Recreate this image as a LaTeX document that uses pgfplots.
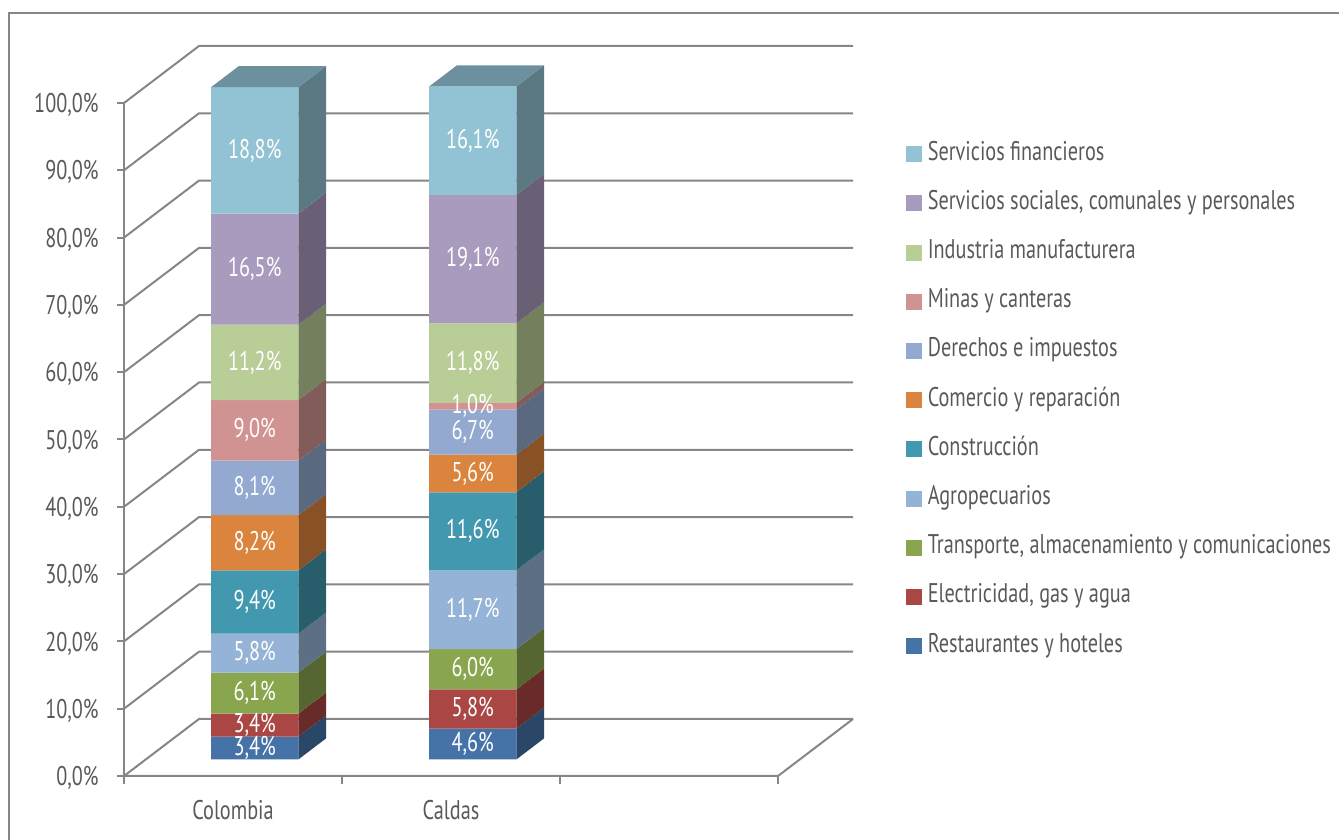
\documentclass[border=0pt]{standalone}
\usepackage{fontspec}
\setmainfont{PT Sans}[FakeStretch=0.75]
\usepackage{pgfplots}
\pgfplotsset{compat=1.18}
\usetikzlibrary{calc}

\definecolor{c1}{HTML}{4572A7}
\definecolor{c2}{HTML}{AA4643}
\definecolor{c3}{HTML}{89A54E}
\definecolor{c4}{HTML}{95B3D7}
\definecolor{c5}{HTML}{4198AF}
\definecolor{c6}{HTML}{DB843D}
\definecolor{c7}{HTML}{93A9CF}
\definecolor{c8}{HTML}{D19392}
\definecolor{c9}{HTML}{B9CD96}
\definecolor{c10}{HTML}{A99BBD}
\definecolor{c11}{HTML}{92C3D4}
\definecolor{txt}{HTML}{595959}
\definecolor{gridc}{HTML}{868686}

\newcommand\lfont{\fontsize{13.5}{15}\selectfont}
\tikzset{lbl/.style={text=white, font=\lfont, inner sep=0pt}}

% bar geometry: depth from 0.29 to 0.66, half width 0.2
\def\yf{0.29}
\def\yb{0.66}
\def\barx{0.5}
\gdef\base{0}
\newtoks\labtoks
\newcommand\seg[3]{% #1 value, #2 colour, #3 label text
  \pgfmathsetmacro\zlo{\base}%
  \pgfmathsetmacro\zhi{\base+#1}%
  \pgfmathsetmacro\zmid{\base+#1/2}%
  \pgfmathsetmacro\xl{\barx-0.2}%
  \pgfmathsetmacro\xr{\barx+0.2}%
  \xdef\base{\zhi}%
  \edef\tmp{%
    \noexpand\addplot3[forget plot, draw=none, fill=#2!62!black] coordinates {(\xr,\yf,\zlo) (\xr,\yb,\zlo) (\xr,\yb,\zhi) (\xr,\yf,\zhi) (\xr,\yf,\zlo)};
    \noexpand\addplot3[forget plot, draw=none, fill=#2] coordinates {(\xl,\yf,\zlo) (\xr,\yf,\zlo) (\xr,\yf,\zhi) (\xl,\yf,\zhi) (\xl,\yf,\zlo)};
  }\tmp
  \edef\tmpl{\the\labtoks \noexpand\node[lbl] at (axis cs:\barx,\yf,\zmid) {\unexpanded{#3}};}%
  \global\labtoks=\expandafter{\tmpl}%
}
\newcommand\topface[1]{%
  \pgfmathsetmacro\xl{\barx-0.2}%
  \pgfmathsetmacro\xr{\barx+0.2}%
  \edef\tmp{%
    \noexpand\addplot3[forget plot, draw=none, fill=#1!74!black] coordinates {(\xl,\yf,\base) (\xr,\yf,\base) (\xr,\yb,\base) (\xl,\yb,\base) (\xl,\yf,\base)};
  }\tmp
}

\pgfplotsset{lgd/.style={legend image code/.code={\fill[#1] (0pt,-3.75pt) rectangle (7.5pt,3.75pt);}}}

\begin{document}
\begin{tikzpicture}
\begin{axis}[
  x={(109pt,0pt)}, y={(37.5pt,28.5pt)}, z={(0pt,3.365pt)},
  xmin=0, xmax=3, ymin=0, ymax=1, zmin=0, zmax=100,
  hide axis, clip=false,
  reverse legend, legend cell align=left,
  legend style={draw=none, fill=none, at={(axis cs:3.587,0,94.2)}, anchor=north west,
    row sep=12.6pt, column sep=3pt, inner sep=0pt, outer sep=0pt,
    nodes={text=txt, font=\lfont, inner sep=0pt, text height=9pt, text depth=3pt}},
]
\coordinate (O) at (axis cs:0,0,0);
% walls and floor
\pgfplotsinvokeforeach{0,10,...,100}{
  \draw[gridc, line width=1pt] (axis cs:0,0,#1) -- (axis cs:0,1,#1) -- (axis cs:3,1,#1);
  \draw[gridc, line width=1pt] (axis cs:0,0,#1) -- ++(-3.5pt,0pt);
  \node[anchor=east, text=txt, font=\lfont, inner sep=0pt] at ($(axis cs:0,0,#1)+(-12.5pt,-1pt)$) {#1,0\%};
}
\draw[gridc, line width=1pt] (axis cs:0,0,0) -- (axis cs:3,0,0) -- (axis cs:3,1,0);
\draw[gridc, line width=1pt] (axis cs:0,0,0) -- (axis cs:0,0,100);
\pgfplotsinvokeforeach{0,1,2,3}{
  \draw[gridc, line width=1pt] (axis cs:#1,0,0) -- ++(0pt,-4pt);
}
\node[text=txt, font=\lfont, inner sep=0pt] at ($(axis cs:0.5,0,0)+(0pt,-17pt)$) {Colombia};
\node[text=txt, font=\lfont, inner sep=0pt] at ($(axis cs:1.5,0,0)+(0pt,-17pt)$) {Caldas};

\global\labtoks={}
% Colombia
\def\barx{0.5}\gdef\base{0}
\seg{3.4}{c1}{3,4\%}
\seg{3.4}{c2}{3,4\%}
\seg{6.1}{c3}{6,1\%}
\seg{5.8}{c4}{5,8\%}
\seg{9.4}{c5}{9,4\%}
\seg{8.2}{c6}{8,2\%}
\seg{8.1}{c7}{8,1\%}
\seg{9.0}{c8}{9,0\%}
\seg{11.2}{c9}{11,2\%}
\seg{16.5}{c10}{16,5\%}
\seg{18.8}{c11}{18,8\%}
\topface{c11}

% Caldas
\def\barx{1.5}\gdef\base{0}
\seg{4.6}{c1}{4,6\%}
\seg{5.8}{c2}{5,8\%}
\seg{6.0}{c3}{6,0\%}
\seg{11.7}{c4}{11,7\%}
\seg{11.6}{c5}{11,6\%}
\seg{5.6}{c6}{5,6\%}
\seg{6.7}{c7}{6,7\%}
\seg{1.0}{c8}{1,0\%}
\seg{11.8}{c9}{11,8\%}
\seg{19.1}{c10}{19,1\%}
\seg{16.1}{c11}{16,1\%}
\topface{c11}

% data labels on top of all bars
\the\labtoks

\addlegendimage{lgd=c1}\addlegendentry{Restaurantes y hoteles}
\addlegendimage{lgd=c2}\addlegendentry{Electricidad, gas y agua}
\addlegendimage{lgd=c3}\addlegendentry{Transporte, almacenamiento y comunicaciones}
\addlegendimage{lgd=c4}\addlegendentry{Agropecuarios}
\addlegendimage{lgd=c5}\addlegendentry{Construcción}
\addlegendimage{lgd=c6}\addlegendentry{Comercio y reparación}
\addlegendimage{lgd=c7}\addlegendentry{Derechos e impuestos}
\addlegendimage{lgd=c8}\addlegendentry{Minas y canteras}
\addlegendimage{lgd=c9}\addlegendentry{Industria manufacturera}
\addlegendimage{lgd=c10}\addlegendentry{Servicios sociales, comunales y personales}
\addlegendimage{lgd=c11}\addlegendentry{Servicios financieros}
\end{axis}
\draw[gridc, line width=1pt] ($(O)+(-57.5pt,-40pt)$) -- ($(O)+(-57.5pt,381.5pt)$) -- ($(O)+(620pt,381.5pt)$);
\pgfresetboundingbox
\path[use as bounding box] ($(O)+(-62pt,-32pt)$) rectangle ($(O)+(607.5pt,388pt)$);
\end{tikzpicture}
\end{document}
